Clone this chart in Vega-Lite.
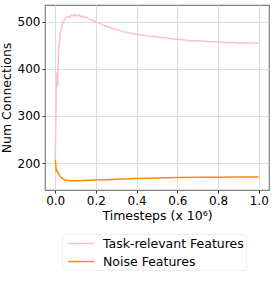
{
  "$schema": "https://vega.github.io/schema/vega-lite/v6.json",
  "width": 224,
  "height": 185,
  "autosize": "none",
  "padding": {"left": 45, "top": 5, "right": 5, "bottom": 115},
  "config": {
    "font": "DejaVu Sans",
    "view": {"stroke": "#808080", "strokeWidth": 1.2},
    "axis": {
      "labelFontSize": 12,
      "titleFontSize": 12.5,
      "labelColor": "#000",
      "titleColor": "#000",
      "titleFontWeight": "normal",
      "tickColor": "#333",
      "tickSize": 3,
      "labelPadding": 2,
      "domain": false,
      "gridColor": "#dddddd",
      "gridWidth": 1
    },
    "legend": {
      "labelFontSize": 12.5,
      "labelColor": "#000"
    }
  },
  "data": {
    "values": [
      {"t": 0, "v": 206, "s": "Task-relevant Features"},
      {"t": 0.003, "v": 280, "s": "Task-relevant Features"},
      {"t": 0.005, "v": 335, "s": "Task-relevant Features"},
      {"t": 0.008, "v": 392, "s": "Task-relevant Features"},
      {"t": 0.010, "v": 370, "s": "Task-relevant Features"},
      {"t": 0.012, "v": 362, "s": "Task-relevant Features"},
      {"t": 0.014, "v": 395, "s": "Task-relevant Features"},
      {"t": 0.016, "v": 432, "s": "Task-relevant Features"},
      {"t": 0.02, "v": 455, "s": "Task-relevant Features"},
      {"t": 0.025, "v": 475, "s": "Task-relevant Features"},
      {"t": 0.033, "v": 492, "s": "Task-relevant Features"},
      {"t": 0.04, "v": 500, "s": "Task-relevant Features"},
      {"t": 0.046, "v": 505, "s": "Task-relevant Features"},
      {"t": 0.055, "v": 508, "s": "Task-relevant Features"},
      {"t": 0.062, "v": 511, "s": "Task-relevant Features"},
      {"t": 0.07, "v": 509, "s": "Task-relevant Features"},
      {"t": 0.08, "v": 513, "s": "Task-relevant Features"},
      {"t": 0.09, "v": 512, "s": "Task-relevant Features"},
      {"t": 0.095, "v": 515, "s": "Task-relevant Features"},
      {"t": 0.105, "v": 511, "s": "Task-relevant Features"},
      {"t": 0.115, "v": 514, "s": "Task-relevant Features"},
      {"t": 0.125, "v": 510, "s": "Task-relevant Features"},
      {"t": 0.135, "v": 512, "s": "Task-relevant Features"},
      {"t": 0.145, "v": 508, "s": "Task-relevant Features"},
      {"t": 0.155, "v": 509, "s": "Task-relevant Features"},
      {"t": 0.165, "v": 505, "s": "Task-relevant Features"},
      {"t": 0.18, "v": 503, "s": "Task-relevant Features"},
      {"t": 0.19, "v": 500, "s": "Task-relevant Features"},
      {"t": 0.2, "v": 501, "s": "Task-relevant Features"},
      {"t": 0.21, "v": 497, "s": "Task-relevant Features"},
      {"t": 0.225, "v": 495, "s": "Task-relevant Features"},
      {"t": 0.24, "v": 491, "s": "Task-relevant Features"},
      {"t": 0.26, "v": 489, "s": "Task-relevant Features"},
      {"t": 0.28, "v": 485, "s": "Task-relevant Features"},
      {"t": 0.30, "v": 483, "s": "Task-relevant Features"},
      {"t": 0.32, "v": 481, "s": "Task-relevant Features"},
      {"t": 0.34, "v": 478, "s": "Task-relevant Features"},
      {"t": 0.36, "v": 477, "s": "Task-relevant Features"},
      {"t": 0.38, "v": 474, "s": "Task-relevant Features"},
      {"t": 0.40, "v": 473, "s": "Task-relevant Features"},
      {"t": 0.43, "v": 471, "s": "Task-relevant Features"},
      {"t": 0.46, "v": 469, "s": "Task-relevant Features"},
      {"t": 0.49, "v": 468, "s": "Task-relevant Features"},
      {"t": 0.52, "v": 466, "s": "Task-relevant Features"},
      {"t": 0.55, "v": 465, "s": "Task-relevant Features"},
      {"t": 0.58, "v": 463, "s": "Task-relevant Features"},
      {"t": 0.61, "v": 462, "s": "Task-relevant Features"},
      {"t": 0.64, "v": 461, "s": "Task-relevant Features"},
      {"t": 0.67, "v": 459, "s": "Task-relevant Features"},
      {"t": 0.70, "v": 459, "s": "Task-relevant Features"},
      {"t": 0.73, "v": 458, "s": "Task-relevant Features"},
      {"t": 0.76, "v": 457, "s": "Task-relevant Features"},
      {"t": 0.79, "v": 457, "s": "Task-relevant Features"},
      {"t": 0.82, "v": 456, "s": "Task-relevant Features"},
      {"t": 0.85, "v": 455, "s": "Task-relevant Features"},
      {"t": 0.88, "v": 456, "s": "Task-relevant Features"},
      {"t": 0.91, "v": 454, "s": "Task-relevant Features"},
      {"t": 0.94, "v": 455, "s": "Task-relevant Features"},
      {"t": 0.97, "v": 454, "s": "Task-relevant Features"},
      {"t": 1.0, "v": 455, "s": "Task-relevant Features"},
      {"t": 0, "v": 206, "s": "Noise Features"},
      {"t": 0.003, "v": 196, "s": "Noise Features"},
      {"t": 0.005, "v": 184, "s": "Noise Features"},
      {"t": 0.008, "v": 185, "s": "Noise Features"},
      {"t": 0.011, "v": 181, "s": "Noise Features"},
      {"t": 0.015, "v": 179, "s": "Noise Features"},
      {"t": 0.021, "v": 174, "s": "Noise Features"},
      {"t": 0.03, "v": 169, "s": "Noise Features"},
      {"t": 0.037, "v": 167, "s": "Noise Features"},
      {"t": 0.05, "v": 164, "s": "Noise Features"},
      {"t": 0.062, "v": 163, "s": "Noise Features"},
      {"t": 0.08, "v": 162.5, "s": "Noise Features"},
      {"t": 0.095, "v": 162.4, "s": "Noise Features"},
      {"t": 0.12, "v": 162.6, "s": "Noise Features"},
      {"t": 0.144, "v": 163, "s": "Noise Features"},
      {"t": 0.17, "v": 163.5, "s": "Noise Features"},
      {"t": 0.193, "v": 164, "s": "Noise Features"},
      {"t": 0.24, "v": 164.8, "s": "Noise Features"},
      {"t": 0.275, "v": 165.3, "s": "Noise Features"},
      {"t": 0.33, "v": 166.3, "s": "Noise Features"},
      {"t": 0.398, "v": 167.4, "s": "Noise Features"},
      {"t": 0.5, "v": 168.5, "s": "Noise Features"},
      {"t": 0.602, "v": 169.5, "s": "Noise Features"},
      {"t": 0.7, "v": 169.8, "s": "Noise Features"},
      {"t": 0.799, "v": 170, "s": "Noise Features"},
      {"t": 0.9, "v": 170.5, "s": "Noise Features"},
      {"t": 1.0, "v": 170.7, "s": "Noise Features"}
    ]
  },
  "mark": {"type": "line", "strokeWidth": 1.5},
  "encoding": {
    "x": {
      "field": "t",
      "type": "quantitative",
      "scale": {"domain": [-0.05, 1.05], "nice": false, "zero": false},
      "axis": {"values": [0, 0.2, 0.4, 0.6, 0.8, 1.0], "format": ".1f", "title": "Timesteps (x 10⁶)", "titlePadding": 3}
    },
    "y": {
      "field": "v",
      "type": "quantitative",
      "scale": {"domain": [143, 535], "nice": false, "zero": false},
      "axis": {"values": [200, 300, 400, 500], "title": "Num Connections", "titlePadding": 4}
    },
    "color": {
      "field": "s",
      "type": "nominal",
      "sort": null,
      "scale": {"domain": ["Task-relevant Features", "Noise Features"], "range": ["#ffc0cb", "#ff8c00"]},
      "legend": {
        "title": null,
        "orient": "none",
        "legendX": 17,
        "legendY": 229,
        "symbolType": "M-0.5,0H3.5",
        "symbolSize": 169,
        "symbolStrokeWidth": 1.5,
        "symbolFillColor": "transparent",
        "labelOffset": 24,
        "rowPadding": 4,
        "padding": 2,
        "strokeColor": "#eeeeee",
        "cornerRadius": 3,
        "fillColor": "#ffffff"
      }
    }
  },
  "background": "#ffffff"
}
